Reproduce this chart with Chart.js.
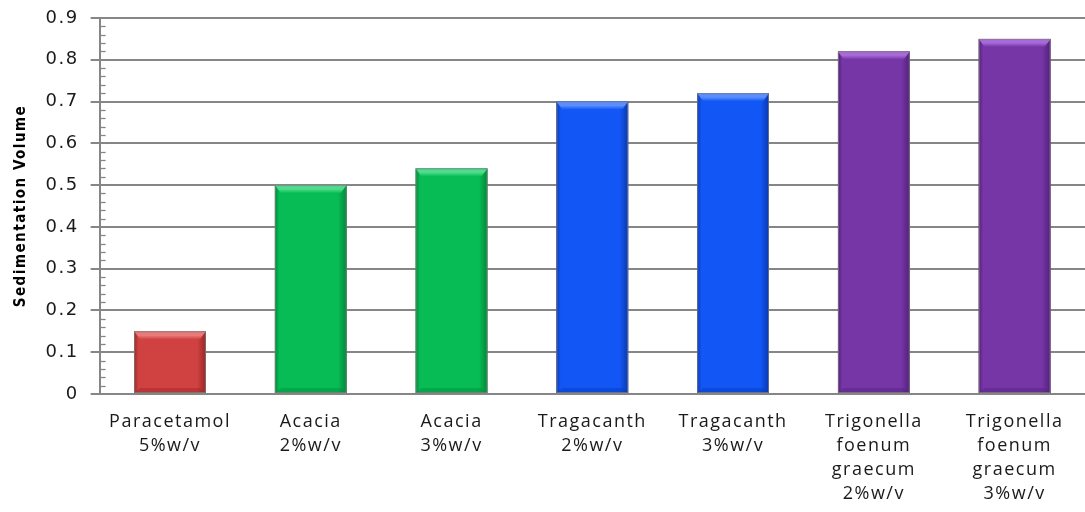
<!DOCTYPE html>
<html>
<head>
<meta charset="utf-8">
<script src="https://cdn.jsdelivr.net/npm/chart.js@4/dist/chart.umd.min.js"></script>
<style>
  html, body { margin: 0; padding: 0; background: #ffffff; }
  #wrap { width: 1085px; height: 512px; position: relative; }
</style>
</head>
<body>
<div id="wrap"><canvas id="chart"></canvas></div>
<script>
// Suspending agents and their sedimentation volume
const categories = [
  ["Paracetamol", "5%w/v"],
  ["Acacia", "2%w/v"],
  ["Acacia", "3%w/v"],
  ["Tragacanth", "2%w/v"],
  ["Tragacanth", "3%w/v"],
  ["Trigonella", "foenum", "graecum", "2%w/v"],
  ["Trigonella", "foenum", "graecum", "3%w/v"]
];
const sedimentationVolume = [0.15, 0.50, 0.54, 0.70, 0.72, 0.82, 0.85];
const yTicks = [0, 0.1, 0.2, 0.3, 0.4, 0.5, 0.6, 0.7, 0.8, 0.9];

// Face, highlight and shadow tones per bar
const faceColors  = ["#d04242", "#07bc55", "#07bc55", "#1257f5", "#1257f5", "#7636a6", "#7636a6"];
const lightColors = ["#ea7a7a", "#4fdc8c", "#4fdc8c", "#5a8eff", "#5a8eff", "#a86ad8", "#a86ad8"];
const darkColors  = ["#982626", "#04863a", "#04863a", "#0a38b0", "#0a38b0", "#52207a", "#52207a"];

// Wider tracking for all chart text
const trackingPlugin = {
  id: 'tracking',
  beforeDraw(chart) { chart.ctx.letterSpacing = '1.5px'; },
  afterDraw(chart) { chart.ctx.letterSpacing = '0px'; }
};

// Gives each bar a bevelled, raised look
const bevelPlugin = {
  id: 'bevel',
  afterDatasetsDraw(chart) {
    const ctx = chart.ctx;
    const meta = chart.getDatasetMeta(0);
    meta.data.forEach((bar, i) => {
      const p = bar.getProps(['x', 'y', 'base', 'width'], true);
      const l = p.x - p.width / 2, r = p.x + p.width / 2;
      const t = p.y, b = p.base;
      const bv = 8, side = 6;
      ctx.save();
      // side shading
      const g = ctx.createLinearGradient(l, 0, r, 0);
      g.addColorStop(0, darkColors[i]);
      g.addColorStop(0.06, faceColors[i]);
      g.addColorStop(0.88, faceColors[i]);
      g.addColorStop(1, darkColors[i]);
      ctx.fillStyle = g;
      ctx.fillRect(l, t, r - l, b - t);
      // top bevel
      ctx.beginPath();
      ctx.moveTo(l, t); ctx.lineTo(r, t);
      ctx.lineTo(r - side, t + bv); ctx.lineTo(l + side, t + bv);
      ctx.closePath();
      const gt = ctx.createLinearGradient(0, t, 0, t + bv);
      gt.addColorStop(0, lightColors[i]);
      gt.addColorStop(0.5, lightColors[i]);
      gt.addColorStop(1, faceColors[i]);
      ctx.fillStyle = gt;
      ctx.fill();
      // bottom bevel
      ctx.beginPath();
      ctx.moveTo(l, b); ctx.lineTo(r, b);
      ctx.lineTo(r - side, b - 5); ctx.lineTo(l + side, b - 5);
      ctx.closePath();
      ctx.fillStyle = darkColors[i];
      ctx.globalAlpha = 0.4;
      ctx.fill();
      ctx.globalAlpha = 1;
      // outline
      ctx.strokeStyle = 'rgba(128,128,128,0.75)';
      ctx.lineWidth = 1;
      ctx.strokeRect(l + 0.5, t + 0.5, r - l - 1, b - t - 1);
      ctx.restore();
    });
  }
};

// Minor tick marks on the value axis (five divisions per major step)
const minorTickPlugin = {
  id: 'minorTicks',
  afterDraw(chart) {
    const ys = chart.scales.y;
    const ctx = chart.ctx;
    ctx.save();
    ctx.strokeStyle = '#868686';
    ctx.lineWidth = 1.3;
    for (let k = 0; k <= 45; k++) {
      if (k % 5 === 0) continue;
      const py = Math.round(ys.getPixelForValue(k * 0.02)) + 0.5;
      ctx.beginPath();
      ctx.moveTo(ys.right, py);
      ctx.lineTo(ys.right + 6, py);
      ctx.stroke();
    }
    ctx.restore();
  }
};

new Chart(document.getElementById('chart'), {
  type: 'bar',
  data: {
    labels: categories,
    datasets: [{
      label: 'Sedimentation Volume',
      data: sedimentationVolume,
      backgroundColor: faceColors,
      borderWidth: 0,
      barPercentage: 0.51,
      categoryPercentage: 1.0
    }]
  },
  options: {
    responsive: true,
    maintainAspectRatio: false,
    animation: false,
    layout: { padding: { left: 12, right: 0, top: 18, bottom: -10 } },
    plugins: {
      legend: { display: false },
      tooltip: { enabled: false }
    },
    scales: {
      x: {
        grid: { display: false, drawTicks: false },
        border: { display: false },
        ticks: {
          color: '#1a1a1a',
          font: { family: 'Open Sans', size: 18, lineHeight: '24px' },
          padding: 16,
          maxRotation: 0,
          autoSkip: false
        }
      },
      y: {
        min: 0,
        max: 0.9,
        afterBuildTicks(scale) {
          scale.ticks = yTicks.map(v => ({ value: v }));
        },
        afterFit(scale) {
          scale.paddingTop = 0;
        },
        grid: {
          color: '#868686',
          lineWidth: 2,
          drawTicks: true,
          tickLength: 9,
          tickColor: '#868686'
        },
        border: { display: true, color: '#868686', width: 2 },
        ticks: {
          color: '#1a1a1a',
          font: { family: 'DejaVu Sans', size: 18 },
          padding: 12,
          callback: v => (v === 0 ? '0' : Number(v).toFixed(1))
        },
        title: {
          display: true,
          text: 'Sedimentation Volume',
          color: '#000000',
          font: { family: "'DejaVu Sans Condensed', 'DejaVu Sans'", size: 15, weight: 'bold' },
          padding: { top: 0, bottom: 8 }
        }
      }
    }
  },
  plugins: [trackingPlugin, bevelPlugin, minorTickPlugin]
});
</script>
</body>
</html>
